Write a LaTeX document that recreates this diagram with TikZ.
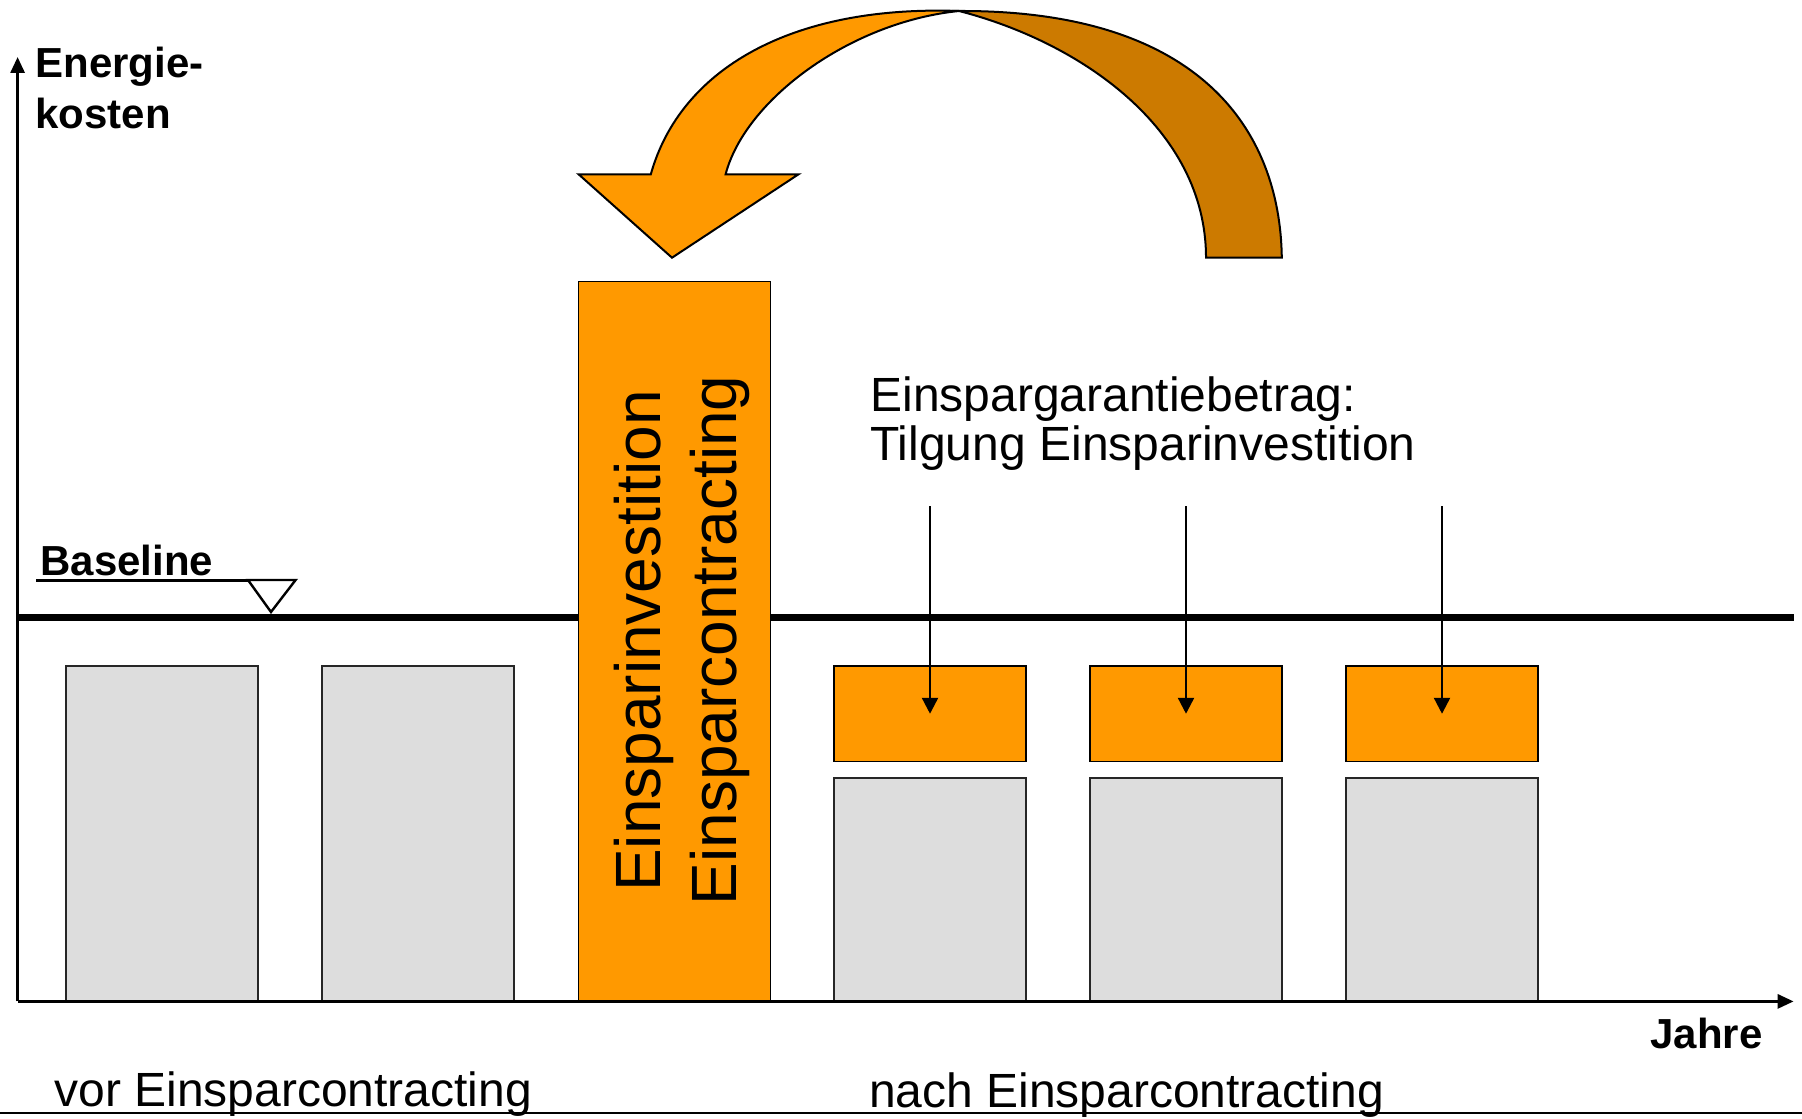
\documentclass[tikz,border=0pt]{standalone}
\usepackage{fontspec}
\setmainfont{Liberation Sans}
\usetikzlibrary{arrows.meta}
\definecolor{orng}{HTML}{FF9900}
\definecolor{dorng}{HTML}{CC7A00}
\definecolor{bargrey}{HTML}{DDDDDD}
\begin{document}
\begin{tikzpicture}[x=0.5pt,y=-0.5pt,
  greybar/.style={draw=black!85, line width=0.7pt, fill=bargrey, inner sep=0pt, outer sep=0pt, anchor=north west, minimum width=96pt},
  orngbox/.style={draw=black, line width=0.8pt, fill=orng, inner sep=0pt, outer sep=0pt, anchor=north west, minimum width=96pt},
  axisline/.style={line width=1.5pt, -{Triangle[length=8pt,width=7pt]}},
  pay/.style={line width=1.2pt, -{Triangle[length=8pt,width=8pt]}},
  boldlbl/.style={font=\bfseries\fontsize{21}{25}\selectfont, inner sep=0pt},
  lbl/.style={font=\fontsize{24}{28}\selectfont, inner sep=0pt},
  vlbl/.style={font=\fontsize{32}{38}\selectfont, inner sep=0pt, rotate=90, anchor=base},
  ribbon/.style={draw=black, line width=1pt, line join=miter}
]
\useasboundingbox (0,0) rectangle (1802,1118);

% coordinates
\coordinate (orig) at (17.6,1001.4);
\coordinate (ytop) at (17.6,57);
\coordinate (xend) at (1793.6,1001.4);
\coordinate (bl1) at (17.6,617.5);
\coordinate (bl2) at (1793.6,617.5);

% baseline (thick)
\draw[line width=3.5pt] (bl1) -- (bl2);

% bars before
\node[greybar, minimum height=167.5pt] (g1) at (66,666) {};
\node[greybar, minimum height=167.5pt] (g2) at (322,666) {};
% investment bar
\node[orngbox, line width=0.7pt, minimum height=359.75pt] (inv) at (578.6,281.7) {};
\node[vlbl] (v1) at (660,641) {Einsparinvestition};
\node[vlbl] (v2) at (736.7,640.4) {Einsparcontracting};
% bars after
\foreach \i/\x in {3/834,4/1090,5/1346}{
  \node[orngbox, minimum height=47.75pt] (o\i) at (\x,666) {};
  \node[greybar, minimum height=111.5pt] (a\i) at (\x,778) {};
  \coordinate (p\i) at (\x+96,506);
  \draw[pay] (p\i) -- (o\i.center);
}

% axes
\draw[axisline] (orig) -- (ytop);
\draw[axisline] (orig) -- (xend);

% labels
\node[boldlbl, anchor=base west] (ylab1) at (35,77.3) {Energie-};
\node[boldlbl, anchor=base west] (ylab2) at (35,128.3) {kosten};
\node[boldlbl, anchor=base west] (blab) at (40,575) {Baseline};
\coordinate (u1) at (36,580);
\coordinate (u2) at (295.6,580);
\coordinate (tl) at (248,580);
\coordinate (tt) at (271,612);
\draw[line width=1.5pt] (u1) -- (u2);
\draw[line width=1.2pt, fill=white, line join=miter] (tl) -- (u2) -- (tt) -- cycle;
\node[boldlbl, anchor=base east] (jahre) at (1763,1048.7) {Jahre};
\node[lbl, anchor=base west] (t1) at (870,411) {Einspargarantiebetrag:};
\node[lbl, anchor=base west] (t2) at (870,460.5) {Tilgung Einsparinvestition};
\node[lbl, anchor=base west] (vor) at (54,1106.7) {vor Einsparcontracting};
\node[lbl, anchor=base west] (nach) at (868.6,1107) {nach Einsparcontracting};
\coordinate (bot1) at (0,1113);
\coordinate (bot2) at (1802,1113);
\draw[line width=1pt] (bot1) -- (bot2);

% curved arrow (twisted ribbon)
\coordinate (cr) at (959,11);
\filldraw[ribbon, fill=dorng] (cr) .. controls (1200,10) and (1280,130) .. (1281.8,257.7)
   -- (1206,257.7) .. controls (1206,127.7) and (1078.7,41.7) .. (cr) -- cycle;
\filldraw[ribbon, fill=orng] (578.6,174.3) -- (650.8,174.3)
   .. controls (680,70) and (790,5) .. (cr)
   .. controls (850,22) and (745,100) .. (725.6,174.3)
   -- (798.5,174.3) -- (672,257.7) -- cycle;
\end{tikzpicture}
\end{document}
